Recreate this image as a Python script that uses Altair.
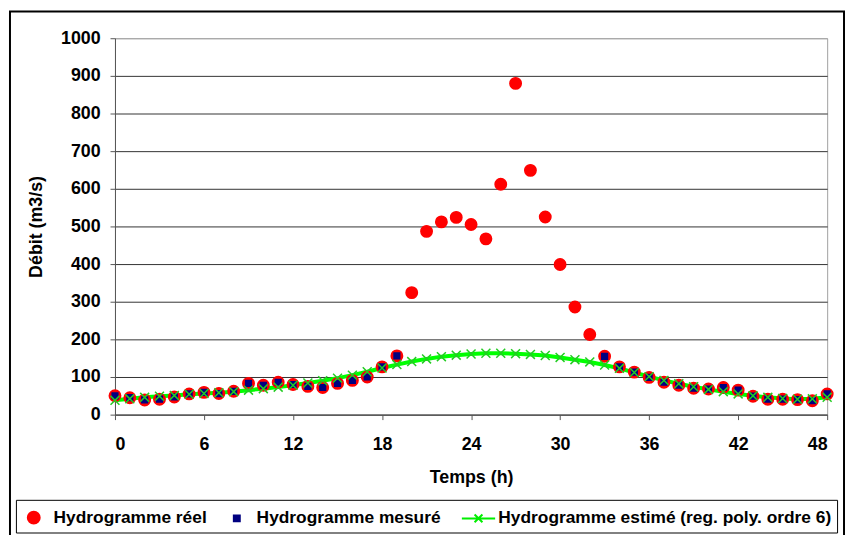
import altair as alt
import pandas as pd

hours = list(range(49))
reel = [50, 45, 39, 41, 47, 55, 59, 56, 62, 83,
        78, 86, 80, 75, 72, 83, 91, 100, 127, 156,
        324, 487, 512, 524, 505, 467, 612, 880, 649, 525,
        399, 286, 213, 155, 127, 113, 99, 86, 78, 70,
        68, 72, 65, 49, 41, 41, 40, 37, 55]
mesure = [50, 45, 39, 41, 47, 55, 59, 56, 62, 83,
          78, 86, 80, 75, 72, 83, 91, 100, 127, 156,
          None, None, None, None, None, None, None, None, None, None,
          None, None, None, 155, 127, 113, 99, 86, 78, 70,
          68, 72, 65, 49, 41, 41, 40, 37, 55]
estime = [38, 42, 46, 49, 51, 54, 56, 58, 61, 65,
          69, 73, 78, 84, 90, 97, 105, 114, 124, 133,
          141, 148, 154, 158, 161, 163, 163, 162, 160, 157,
          152, 146, 140, 132, 123, 112, 101, 91, 82, 74,
          67, 61, 55, 50, 46, 43, 41, 42, 46]
x_ticks = list(range(0, 49, 6))
y_ticks = list(range(0, 1001, 100))

series = ["Hydrogramme réel", "Hydrogramme mesuré",
          "Hydrogramme estimé (reg. poly. ordre 6)"]
colors = ["#ff0000", "#000080", "#00ee00"]
shapes = ["M-0.5,0A0.5,0.5,0,1,0,0.5,0A0.5,0.5,0,1,0,-0.5,0Z",
          "M-0.25,-0.25H0.25V0.25H-0.25Z",
          "M-1.4,0H1.4M-0.33,-0.33L0.33,0.33M-0.33,0.33L0.33,-0.33"]

rows = []
for h, v in zip(hours, reel):
    rows.append({"h": h, "v": v, "s": series[0]})
for h, v in zip(hours, mesure):
    if v is not None:
        rows.append({"h": h, "v": v, "s": series[1]})
pts = pd.DataFrame(rows)
est = pd.DataFrame({"h": hours, "v": estime})

FONT = "Liberation Sans"

x = alt.X("h:Q", scale=alt.Scale(domain=[0, 48], nice=False),
          axis=alt.Axis(values=x_ticks, title="Temps (h)", grid=False, format="d",
                        labelPadding=16, titlePadding=16))
y = alt.Y("v:Q", scale=alt.Scale(domain=[0, 1000], nice=False),
          axis=alt.Axis(values=y_ticks, title="Débit (m3/s)", grid=True, format="d",
                        gridColor={"condition": {"test": "datum.value === 1000", "value": "#a6a6a6"},
                                   "value": "#333333"},
                        labelPadding=10, titlePadding=15))

leg = alt.Legend(title=None, orient="none", legendX=-100, legendY=466, direction="horizontal")

line = alt.Chart(est).mark_line(color="#00ff00", strokeWidth=4).encode(x=x, y=y)

points = alt.Chart(pts).mark_point(filled=True, size=529, strokeWidth=1.5, opacity=1).encode(
    x=x, y=y,
    fill=alt.Fill("s:N", scale=alt.Scale(domain=series, range=colors), legend=leg),
    stroke=alt.Stroke("s:N", scale=alt.Scale(domain=series, range=colors), legend=leg),
    shape=alt.Shape("s:N", scale=alt.Scale(domain=series, range=shapes), legend=leg),
)

crosses = alt.Chart(est).mark_point(shape="M-1,-1L1,1M-1,1L1,-1", size=81, filled=False,
                                     stroke="#22cc22", strokeWidth=1.5, opacity=1).encode(x=x, y=y)

frame = alt.Chart(pd.DataFrame({"a": [0]})).mark_rect(
    fillOpacity=0, stroke="black", strokeWidth=2
).encode(x=alt.value(-106), x2=alt.value(736), y=alt.value(-27), y2=alt.value(530))

chart = alt.layer(line, points, crosses, frame).properties(
    width=719, height=380,
    autosize=alt.AutoSizeParams(type="none"),
    padding={"left": 108, "top": 28, "right": 18, "bottom": 119},
).configure_view(
    stroke="#a0a0a0", strokeWidth=1
).configure_axis(
    labelFont=FONT, labelFontSize=18, labelFontWeight="bold", labelColor="black",
    titleFont=FONT, titleFontSize=18, titleFontWeight="bold", titleColor="black",
    domainColor="#555555", tickColor="#555555", tickSize=5, gridWidth=1,
).configure_legend(
    labelFont=FONT, labelFontSize=17.5, labelFontWeight="bold", labelColor="black",
    labelLimit=600, symbolSize=576, symbolStrokeWidth=2, labelOffset=7,
    columnPadding=17, padding=5, strokeColor="black", fillColor="white",
)

chart.save("out.html", embed_options={"renderer": "svg", "actions": False})
